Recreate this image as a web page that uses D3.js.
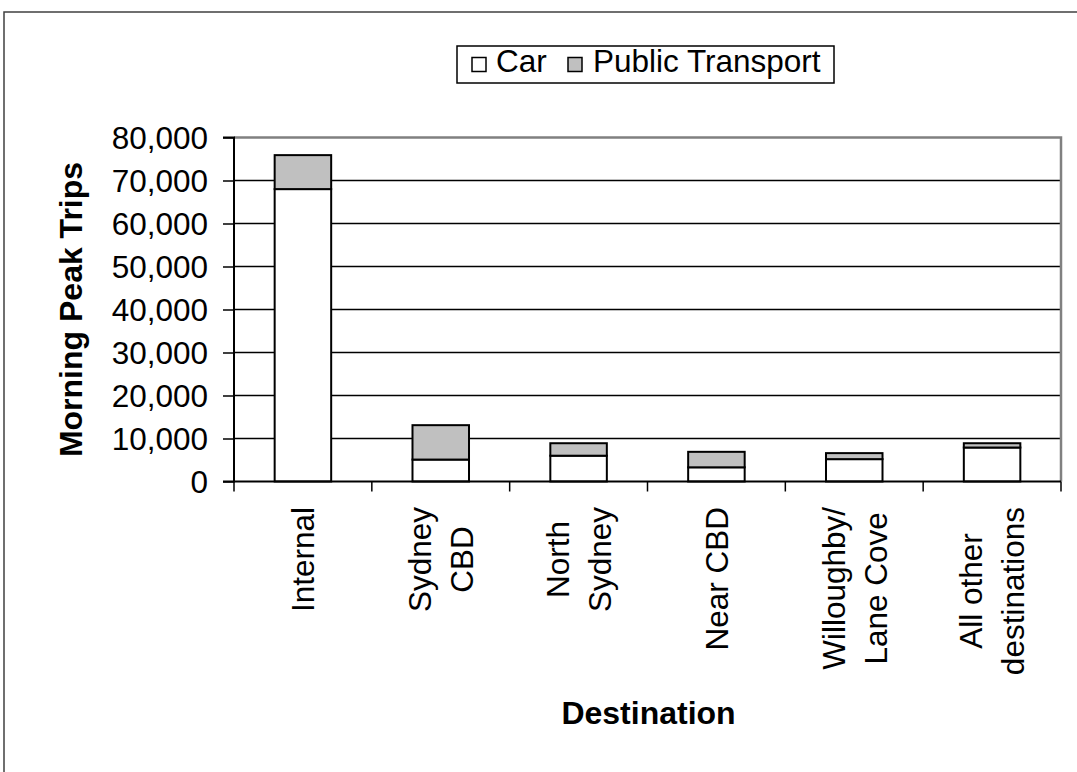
<!DOCTYPE html>
<html>
<head>
<meta charset="utf-8">
<script src="https://cdn.jsdelivr.net/npm/d3@7"></script>
<style>
  html, body { margin: 0; padding: 0; background: #fff; }
  svg { display: block; font-family: "Liberation Sans", Arial, sans-serif; }
</style>
</head>
<body>
<svg id="chart" width="1077" height="772"></svg>
<script>
const categories = [["Internal"], ["Sydney", "CBD"], ["North", "Sydney"], ["Near CBD"], ["Willoughby/", "Lane Cove"], ["All other", "destinations"]];
const carValues = [68000, 5100, 6000, 3300, 5200, 7900];
const ptValues = [7900, 8000, 2900, 3600, 1400, 1000];
const seriesNames = ["Car", "Public Transport"];
const seriesColors = ["#ffffff", "#c0c0c0"];
const yTicks = [0, 10000, 20000, 30000, 40000, 50000, 60000, 70000, 80000];

const svg = d3.select("#chart");
const plot = { left: 234, right: 1061, top: 137.5, bottom: 481.5 };
const fs = 31.5;
const fsB = 32;

// outer frame (top + left visible)
svg.append("path").attr("d", "M4,1000 L4,12 L1200,12").attr("fill", "none").attr("stroke", "#404040").attr("stroke-width", 1.5);

const keys = categories.map((c, i) => i);
const x = d3.scaleBand().domain(keys).range([plot.left, plot.right]).paddingInner(0).paddingOuter(0);
const y = d3.scaleLinear().domain([0, 80000]).range([plot.bottom, plot.top]);
const barW = x.bandwidth() * 0.41;

// gridlines
svg.append("g").selectAll("line").data(yTicks.filter(t => t > 0 && t < 80000)).join("line")
  .attr("x1", plot.left).attr("x2", plot.right).attr("y1", d => y(d)).attr("y2", d => y(d))
  .attr("stroke", "#000").attr("stroke-width", 1.5);

// plot border top/right
svg.append("path").attr("d", `M${plot.left},${plot.top} L${plot.right},${plot.top} L${plot.right},${plot.bottom}`)
  .attr("fill", "none").attr("stroke", "#808080").attr("stroke-width", 2.5);

// stacked data
const stackData = keys.map(i => ({ i, Car: carValues[i], PT: ptValues[i] }));
const stack = d3.stack().keys(["Car", "PT"])(stackData);

stack.forEach((layer, si) => {
  svg.append("g").selectAll("rect").data(layer).join("rect")
    .attr("x", d => x(d.data.i) + x.bandwidth() / 2 - barW / 2)
    .attr("width", barW)
    .attr("y", d => y(d[1]))
    .attr("height", d => y(d[0]) - y(d[1]))
    .attr("fill", seriesColors[si])
    .attr("stroke", "#000").attr("stroke-width", 2);
});

// y axis
const yAxis = d3.axisLeft(y).tickValues(yTicks).tickSize(11).tickFormat(d3.format(","));
const gy = svg.append("g").attr("transform", `translate(${plot.left},0)`).call(yAxis);
gy.select(".domain").attr("stroke", "#000").attr("stroke-width", 2).attr("d", `M-11,${plot.top}H0V${plot.bottom}H-11`);
gy.selectAll(".tick line").attr("stroke", "#000").attr("stroke-width", 1.5);
gy.selectAll(".tick text").attr("font-size", fs).attr("fill", "#000").attr("x", -26).attr("dy", null).attr("y", fs * 0.36)
  .attr("font-family", "Liberation Sans, Arial, sans-serif");

// x axis
const boundaries = keys.map(i => x(i)).concat([plot.right]);
svg.append("line").attr("x1", plot.left).attr("x2", plot.right).attr("y1", plot.bottom).attr("y2", plot.bottom)
  .attr("stroke", "#000").attr("stroke-width", 2);
svg.append("g").selectAll("line").data(boundaries).join("line")
  .attr("x1", d => d).attr("x2", d => d).attr("y1", plot.bottom).attr("y2", plot.bottom + 10)
  .attr("stroke", "#000").attr("stroke-width", 1.5);

// x labels rotated
const labelTop = 507;
const lineGap = 42;
categories.forEach((lines, i) => {
  const cx = x(i) + x.bandwidth() / 2;
  const g = svg.append("g");
  const texts = lines.map(l => g.append("text").text(l).attr("font-size", fs).attr("fill", "#000").attr("text-anchor", "middle"));
  const maxLen = d3.max(texts, t => t.node().getComputedTextLength());
  const cy = labelTop + maxLen / 2;
  const n = lines.length;
  texts.forEach((t, k) => {
    const bx = cx + fs * 0.36 + (k - (n - 1) / 2) * lineGap;
    t.attr("transform", `translate(${bx},${cy}) rotate(-90)`);
  });
});

// axis titles
svg.append("text").text("Destination").attr("x", (plot.left + plot.right) / 2 + 1).attr("y", 724)
  .attr("text-anchor", "middle").attr("font-size", fsB).attr("font-weight", "bold").attr("fill", "#000");
svg.append("text").text("Morning Peak Trips").attr("transform", `translate(82,${(plot.top + plot.bottom) / 2}) rotate(-90)`)
  .attr("text-anchor", "middle").attr("font-size", fsB).attr("font-weight", "bold").attr("fill", "#000");

// legend
const lg = svg.append("g");
lg.append("rect").attr("x", 457).attr("y", 46).attr("width", 377).attr("height", 37)
  .attr("fill", "#fff").attr("stroke", "#000").attr("stroke-width", 1.5);
const legendItems = [{ sx: 472, tx: 496 }, { sx: 568, tx: 593 }];
seriesNames.forEach((name, i) => {
  lg.append("rect").attr("x", legendItems[i].sx).attr("y", 57.5).attr("width", 14).attr("height", 14)
    .attr("fill", seriesColors[i]).attr("stroke", "#000").attr("stroke-width", 1.5);
  lg.append("text").text(name).attr("x", legendItems[i].tx).attr("y", 72)
    .attr("font-size", fs).attr("fill", "#000");
});
</script>
</body>
</html>
